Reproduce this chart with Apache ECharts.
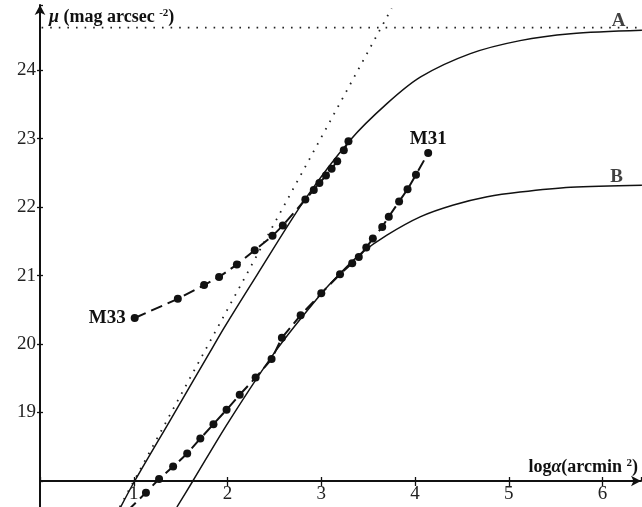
<!DOCTYPE html>
<html><head><meta charset="utf-8">
<script src="https://cdn.jsdelivr.net/npm/echarts@6/dist/echarts.min.js"></script>
<style>html,body{margin:0;padding:0;background:#fff}#c{width:642px;height:507px}</style>
</head><body><div id="c"></div>
<script>
// M33 measured profile
const m33LogA = [1.01,1.47,1.75,1.91,2.10,2.29,2.48,2.59,2.83,2.92,2.98,3.05,3.11,3.17,3.24,3.29];
const m33Mu   = [20.38,20.66,20.86,20.98,21.16,21.37,21.58,21.73,22.11,22.25,22.35,22.46,22.56,22.67,22.83,22.96];
// M31 measured profile
const m31LogA = [0.93,1.13,1.27,1.42,1.57,1.71,1.85,1.99,2.13,2.30,2.47,2.58,2.78,3.00,3.20,3.33,3.40,3.48,3.55,3.65,3.72,3.83,3.92,4.01,4.14];
const m31Mu   = [17.56,17.83,18.03,18.21,18.40,18.62,18.83,19.04,19.26,19.51,19.78,20.09,20.42,20.74,21.02,21.18,21.27,21.41,21.54,21.71,21.86,22.08,22.26,22.47,22.79];
// model curve A
const curveALogA = [0.86,1.01,1.39,1.82,1.96,2.31,2.83,3.31,3.70,4.06,4.59,5.12,5.66,6.42];
const curveAMu   = [17.62,18.00,18.89,19.90,20.23,21.00,22.12,22.98,23.51,23.90,24.24,24.43,24.53,24.58];
// model curve B
const curveBLogA = [1.46,1.63,2.01,2.52,2.99,3.20,3.43,3.70,4.06,4.41,4.77,5.12,5.66,6.42];
const curveBMu   = [17.62,18.00,18.86,19.91,20.72,21.03,21.33,21.59,21.86,22.03,22.15,22.22,22.29,22.32];
// sky level of A and the slope-2.5 asymptote
const skyLogA = [-0.35, 6.42];
const skyMu = [24.62, 24.62];
const asymLogA = [0.85, 3.75];
const asymMu = [17.62, 24.90];
// axis extensions beyond the plotted frame
const xAxisExtLogA = [-0.35, 0];
const xAxisExtMu = [18, 18];
const yAxisExtLogA = [0, 0];
const yAxisExtMu = [17.55, 18];

const zip = (a, b) => a.map((v, i) => [v, b[i]]);
const FONT = 'Liberation Serif';

const chart = echarts.init(document.getElementById('c'), null, {renderer: 'canvas'});

const baseX = {
  type: 'value', min: 0, max: 6.41, interval: 1, gridIndex: 0,
  splitLine: {show: false}
};
const baseY = {
  type: 'value', min: 18, max: 24.95, interval: 1, gridIndex: 0,
  splitLine: {show: false}
};

const option = {
  animation: false,
  backgroundColor: '#fff',
  grid: {left: 40, right: 1, top: 5, bottom: 26, containLabel: false, outerBoundsMode: 'none'},
  xAxis: [
    Object.assign({}, baseX, {
      position: 'bottom',
      axisLine: {show: true, lineStyle: {color: '#111', width: 2}, symbol: ['none', 'arrow'], symbolSize: [8, 10]},
      axisTick: {show: true, inside: false, length: 5, lineStyle: {color: '#111', width: 1.3}},
      axisLabel: {show: true, margin: 4, color: '#222', fontFamily: FONT, fontSize: 19,
        showMaxLabel: false, showMinLabel: false,
        formatter: v => v === 0 ? '' : String(v)},
      name: 'log{i|α}(arcmin {sup|2})',
      nameLocation: 'end',
      nameGap: -3,
      nameTextStyle: {
        fontFamily: FONT, fontSize: 18, fontWeight: 'bold', color: '#111',
        align: 'right', verticalAlign: 'bottom', padding: [0, 0, 4, 0],
        rich: {
          i: {fontFamily: FONT, fontSize: 18, fontWeight: 'bold', fontStyle: 'italic', color: '#111'},
          sup: {fontFamily: FONT, fontSize: 11, fontWeight: 'bold', color: '#111', padding: [0, 0, 8, 0]}
        }
      }
    }),
    Object.assign({}, baseX, {
      position: 'bottom',
      axisLine: {show: false},
      axisTick: {show: true, inside: true, length: 4, lineStyle: {color: '#111', width: 1.3}},
      axisLabel: {show: false}
    })
  ],
  yAxis: [
    Object.assign({}, baseY, {
      position: 'left',
      axisLine: {show: true, lineStyle: {color: '#111', width: 2}, symbol: ['none', 'arrow'], symbolSize: [8, 10]},
      axisTick: {show: true, inside: false, length: 3, lineStyle: {color: '#111', width: 1.3}},
      axisLabel: {show: true, margin: 4, color: '#222', fontFamily: FONT, fontSize: 19,
        showMaxLabel: false, showMinLabel: false,
        formatter: v => v === 18 ? '' : String(v)},
      name: '{i|μ} (mag arcsec {sup|-2})',
      nameLocation: 'end',
      nameGap: -12,
      nameTextStyle: {
        fontFamily: FONT, fontSize: 18, fontWeight: 'bold', color: '#111',
        align: 'left', verticalAlign: 'middle', padding: [0, 0, 0, 9],
        rich: {
          i: {fontFamily: FONT, fontSize: 18, fontWeight: 'bold', fontStyle: 'italic', color: '#111'},
          sup: {fontFamily: FONT, fontSize: 11, fontWeight: 'bold', color: '#111', padding: [0, 0, 8, 0]}
        }
      }
    }),
    Object.assign({}, baseY, {
      position: 'left',
      axisLine: {show: false},
      axisTick: {show: true, inside: true, length: 3, lineStyle: {color: '#111', width: 1.3}},
      axisLabel: {show: false}
    })
  ],
  series: [
    {
      name: 'x-axis extension', type: 'line', clip: false, symbol: 'none', silent: true,
      data: zip(xAxisExtLogA, xAxisExtMu), lineStyle: {color: '#111', width: 2}
    },
    {
      name: 'y-axis extension', type: 'line', clip: false, symbol: 'none', silent: true,
      data: zip(yAxisExtLogA, yAxisExtMu), lineStyle: {color: '#111', width: 2}
    },
    {
      name: 'sky A', type: 'line', clip: false, symbol: 'none',
      data: zip(skyLogA, skyMu),
      lineStyle: {color: '#222', width: 1.8, type: [1.6, 7], cap: 'butt'}
    },
    {
      name: 'asymptote', type: 'line', clip: false, symbol: 'none',
      data: zip(asymLogA, asymMu),
      lineStyle: {color: '#222', width: 1.8, type: [1.6, 7], cap: 'butt'}
    },
    {
      name: 'A', type: 'line', clip: false, symbol: 'none', smooth: 0.3,
      data: zip(curveALogA, curveAMu),
      lineStyle: {color: '#111', width: 1.5}
    },
    {
      name: 'B', type: 'line', clip: false, symbol: 'none', smooth: 0.3,
      data: zip(curveBLogA, curveBMu),
      lineStyle: {color: '#111', width: 1.5}
    },
    {
      name: 'M33', type: 'line', clip: false, symbol: 'circle', symbolSize: 8,
      data: zip(m33LogA, m33Mu).map((p, i) => i === 0 ? {
        value: p,
        label: {show: true, position: 'left', distance: 5, formatter: 'M33',
          fontFamily: FONT, fontSize: 19, fontWeight: 'bold', color: '#111'}
      } : p),
      itemStyle: {color: '#111'},
      lineStyle: {color: '#111', width: 2, type: [12, 6]}
    },
    {
      name: 'M31', type: 'line', clip: false, symbol: 'circle', symbolSize: 8,
      data: zip(m31LogA, m31Mu).map((p, i, arr) => i === arr.length - 1 ? {
        value: p,
        label: {show: true, position: 'top', distance: 0, formatter: 'M31',
          fontFamily: FONT, fontSize: 19, fontWeight: 'bold', color: '#111'}
      } : p),
      itemStyle: {color: '#111'},
      lineStyle: {color: '#111', width: 2, type: [12, 6]}
    },
    {
      name: 'curve labels', type: 'scatter', clip: false, symbolSize: 0, silent: true,
      data: [
        {value: [6.17, 24.72], label: {formatter: 'A'}},
        {value: [6.15, 22.43], label: {formatter: 'B'}}
      ],
      label: {show: true, position: 'inside', fontFamily: FONT, fontSize: 19, fontWeight: 'bold', color: '#111'}
    }
  ]
};
chart.setOption(option);
</script>
</body></html>
